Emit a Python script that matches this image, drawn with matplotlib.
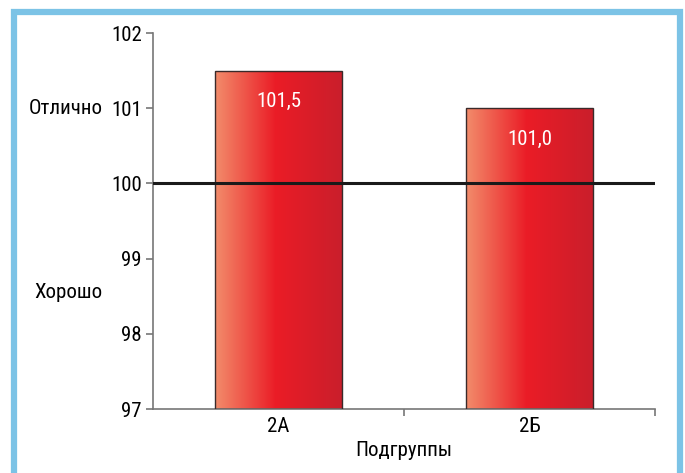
import numpy as np
import matplotlib
matplotlib.use("Agg")
import matplotlib.pyplot as plt
from matplotlib.colors import LinearSegmentedColormap
from matplotlib.patches import Rectangle
from matplotlib.ticker import FixedLocator
from matplotlib.transforms import blended_transform_factory

plt.rcParams['font.family'] = ['Roboto Condensed', 'PT Sans Narrow', 'DejaVu Sans']

categories = ["2А", "2Б"]
values = [101.5, 101.0]
value_labels = ["101,5", "101,0"]
y_ticks = [97, 98, 99, 100, 101, 102]
reference_level = 100
grade_labels = [("Отлично", 101.0), ("Хорошо", 98.55)]

fig = plt.figure(figsize=(6.85, 4.73), dpi=100)
ax = fig.add_axes([0.2234, 0.1353, 0.7328, 0.7949])

# blue frame around the whole panel
frame = Rectangle((14 / 685, -0.05), (680 - 14) / 685, 1 - 12 / 473 + 0.05,
                  transform=fig.transFigure, fill=False, edgecolor='#7cc3e6',
                  linewidth=4.5, clip_on=False)
fig.patches.append(frame)

grad = LinearSegmentedColormap.from_list(
    "bar_grad",
    [(0.0, (0.95, 0.55, 0.42)), (0.48, (0.92, 0.11, 0.15)), (1.0, (0.79, 0.12, 0.17))])
gradient = np.linspace(0, 1, 256).reshape(1, -1)

x = np.arange(len(categories))
width = 0.505
bars = ax.bar(x, [v - y_ticks[0] for v in values], width, bottom=y_ticks[0],
              facecolor='none', edgecolor='#3a2a2a', linewidth=1.0, zorder=3)
for rect, lab in zip(bars, value_labels):
    x0, y0 = rect.get_x(), rect.get_y()
    w, h = rect.get_width(), rect.get_height()
    im = ax.imshow(gradient, cmap=grad, aspect='auto',
                   extent=(x0, x0 + w, y0, y0 + h), zorder=2)
    im.set_clip_path(rect)
    ax.text(x0 + w / 2, y0 + h - 0.41, lab, ha='center', va='center',
            color='white', fontsize=15, zorder=5)

ax.axhline(reference_level, color='#1a1a1a', linewidth=2.2, zorder=4)

ax.set_xlim(-0.5, len(categories) - 0.5)
ax.set_ylim(y_ticks[0], y_ticks[-1])
ax.set_yticks(y_ticks)
ax.set_yticklabels([str(t) for t in y_ticks], fontsize=15)
ax.set_xticks(x)
ax.set_xticklabels(categories, fontsize=15)
ax.xaxis.set_minor_locator(FixedLocator([0.5, 1.5]))
ax.tick_params(axis='x', which='major', length=0, pad=6)
ax.tick_params(axis='x', which='minor', length=5, color='#777777', width=1.2)
ax.tick_params(axis='y', length=5, color='#777777', width=1.2, pad=3)

for side in ('top', 'right'):
    ax.spines[side].set_visible(False)
for side in ('left', 'bottom'):
    ax.spines[side].set_color('#777777')
    ax.spines[side].set_linewidth(1.2)

ax.set_xlabel("Подгруппы", fontsize=15, labelpad=3)

tr = blended_transform_factory(ax.transAxes, ax.transData)
for text, yv in grade_labels:
    ax.text(-0.10, yv, text, transform=tr, ha='right', va='center', fontsize=15)

fig.savefig("out.png", dpi=100, facecolor='white')
